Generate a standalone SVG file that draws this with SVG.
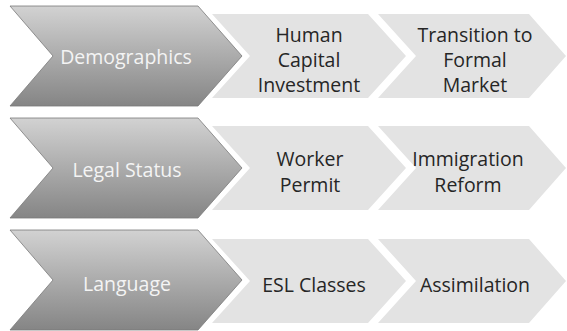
<svg xmlns="http://www.w3.org/2000/svg" width="567" height="331" viewBox="0 0 567 331">
<defs>
<linearGradient id="dg" x1="0" y1="0" x2="0" y2="1">
<stop offset="0" stop-color="#d2d2d2"/>
<stop offset="1" stop-color="#858585"/>
</linearGradient>
</defs>
<style>
.dark{fill:url(#dg);stroke:#7a7a7a;stroke-width:0.8}
.light{fill:#e3e3e3}
.dt{font-family:"Open Sans","Liberation Sans",sans-serif;font-size:19.5px;fill:#f4f4f4;text-anchor:middle}
.lt{font-family:"Open Sans","Liberation Sans",sans-serif;font-size:19.5px;fill:#262626;text-anchor:middle}
</style>
<rect width="567" height="331" fill="#ffffff"/>
<g id="connectors"></g>
<g id="row1">
<g id="demographics"><polygon class="dark" points="10,6 198,6 242,56 198,106 10,106 53,56"/><text class="dt" x="126" y="64">Demographics</text></g>
<g id="human-capital"><polygon class="light" points="212,14 368,14 406,56 368,98 212,98 250,56"/><text class="lt" x="309" y="42">Human</text><text class="lt" x="309" y="67">Capital</text><text class="lt" x="309" y="92">Investment</text></g>
<g id="transition"><polygon class="light" points="378,14 529,14 566,56 529,98 378,98 416,56"/><text class="lt" x="475" y="42">Transition to</text><text class="lt" x="475" y="67">Formal</text><text class="lt" x="475" y="92">Market</text></g>
</g>
<g id="row2">
<g id="legal-status"><polygon class="dark" points="10,118 198,118 242,168 198,218 10,218 53,168"/><text class="dt" x="127" y="177">Legal Status</text></g>
<g id="worker-permit"><polygon class="light" points="212,126 368,126 406,168 368,210 212,210 250,168"/><text class="lt" x="310" y="166">Worker</text><text class="lt" x="310" y="192">Permit</text></g>
<g id="immigration"><polygon class="light" points="378,126 529,126 566,168 529,210 378,210 416,168"/><text class="lt" x="468" y="166">Immigration</text><text class="lt" x="468" y="192">Reform</text></g>
</g>
<g id="row3">
<g id="language"><polygon class="dark" points="10,230 198,230 242,280 198,330 10,330 53,280"/><text class="dt" x="127" y="291">Language</text></g>
<g id="esl"><polygon class="light" points="212,239 368,239 406,281 368,323 212,323 250,281"/><text class="lt" x="314" y="292">ESL Classes</text></g>
<g id="assimilation"><polygon class="light" points="378,239 529,239 566,281 529,323 378,323 416,281"/><text class="lt" x="475" y="292">Assimilation</text></g>
</g>
</svg>
